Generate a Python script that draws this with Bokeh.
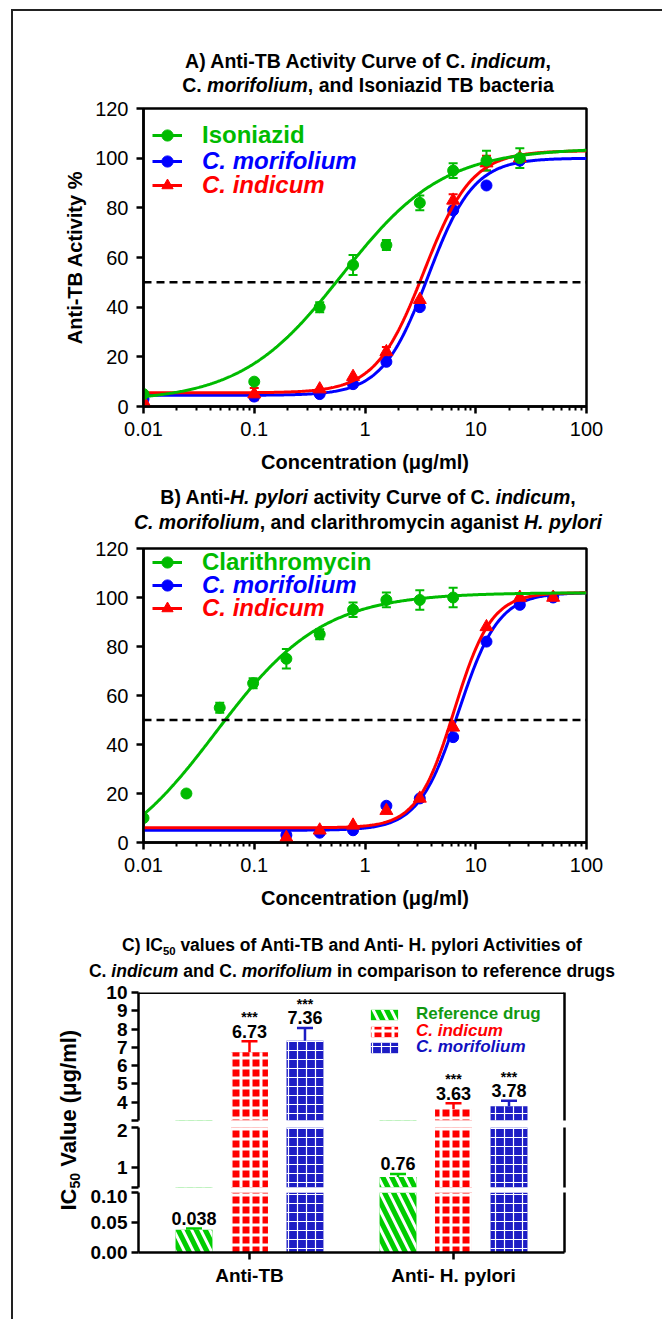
import numpy as np
from math import pi
from bokeh.plotting import figure
from bokeh.models import (Range1d, FixedTicker, Span, Whisker, TeeHead, ColumnDataSource,
                          Legend, LegendItem, Label, LabelSet, Div, Spacer, LinearAxis,
                          FactorRange, PrintfTickFormatter)
from bokeh.layouts import column, row
from bokeh.transform import dodge
from bokeh.core.properties import value
from bokeh.embed import file_html
from bokeh.resources import INLINE

FONT = "Liberation Sans"
GREEN, BLUE, RED = "#00bb00", "#0000ff", "#ff0000"

# ---------------- Panel A: anti-TB activity (%) ----------------
conc_tb = [0.01, 0.1, 0.39, 0.78, 1.56, 3.125, 6.25, 12.5, 25]
isoniazid_tb = [5, 10, 40, 57, 65, 82, 95, 99, 100]
isoniazid_tb_err = [0, 0, 2, 4, 2, 3, 3, 4, 4]
morifolium_tb = [3, 4, 5, 9, 18, 40, 79, 89, 99]
morifolium_tb_err = [0, 0, 0, 0, 0, 0, 0, 0, 0]
indicum_tb = [2, 5, 7, 12, 22, 43, 83, 98, 100]
indicum_tb_err = [0, 2.5, 0, 0, 2, 0, 2.5, 3, 0]
# fitted curves (bottom, top, IC50, hill) as read from the drawn fits
fit_isoniazid_tb = [2, 104, 0.62, 0.95]
fit_morifolium_tb = [4.5, 100, 3.7, 2.1]
fit_indicum_tb = [5.5, 103, 3.4, 2.0]

# ---------------- Panel B: anti-H. pylori activity (%) ----------------
conc_clar = [0.01, 0.0244, 0.0488, 0.0977, 0.195, 0.39, 0.78, 1.56, 3.125, 6.25]
clarithromycin_hp = [10, 20, 55, 65, 75, 85, 95, 99, 99, 100]
clarithromycin_hp_err = [0, 0, 2, 2, 4, 2, 3, 3, 4, 4]
conc_extract = [0.195, 0.39, 0.78, 1.56, 3.125, 6.25, 12.5, 25, 50]
morifolium_hp = [3, 4, 5, 15, 18, 43, 82, 97, 100]
morifolium_hp_err = [0, 0, 0, 0, 0, 0, 0, 0, 0]
indicum_hp = [2, 5, 7, 13, 18, 47, 88, 100, 100]
indicum_hp_err = [0, 0, 0, 0, 0, 0, 0, 0, 0]
fit_clarithromycin_hp = [-12, 102, 0.045, 0.9]
fit_morifolium_hp = [5, 102, 7.0, 2.4]
fit_indicum_hp = [6, 102, 6.4, 2.6]

# ---------------- Panel C: IC50 values (ug/ml) ----------------
groups = ["Anti-TB", "Anti- H. pylori"]
ic50_reference = [0.038, 0.76]
ic50_reference_err = [0.002, 0.08]
ic50_indicum = [6.73, 3.63]
ic50_indicum_err = [0.6, 0.32]
ic50_morifolium = [7.36, 3.78]
ic50_morifolium_err = [0.7, 0.3]
sig_reference = ["", ""]
sig_indicum = ["***", "***"]
sig_morifolium = ["***", "***"]

# ticks
y_ticks_pct = [0, 20, 40, 60, 80, 100, 120]
x_major_ticks = [0.01, 0.1, 1, 10, 100]
x_tick_labels = ["0.01", "0.1", "1", "10", "100"]
c_top_ticks = [3, 4, 5, 6, 7, 8, 9, 10]
c_mid_ticks = [0.5, 1, 2]
c_bot_ticks = [0, 0.05, 0.1]

W = 649


def logistic(x, bottom, top, ic50, hill):
    return bottom + (top - bottom) / (1 + 10 ** ((np.log10(ic50) - np.log10(x)) * hill))


XS = np.logspace(-2, 2, 400)


def title_div(lines, height, size, cx):
    parts = []
    for html, cy in lines:
        parts.append(f'<div style="position:absolute;left:{cx}px;top:{cy}px;'
                     f'transform:translate(-50%,-50%);white-space:nowrap;">{html}</div>')
    html = (f'<div style="position:relative;width:{W}px;height:{height}px;'
            f"font-family:'{FONT}',sans-serif;font-weight:bold;font-size:{size}px;"
            f'line-height:1;color:#000;">' + "".join(parts) + '</div>')
    return Div(text=html, width=W, height=height, margin=0)


def style_axis(ax, size="20px", style="normal"):
    ax.axis_line_width = 2.5
    ax.axis_line_color = "black"
    ax.major_tick_line_width = 2.5
    ax.minor_tick_line_width = 2
    ax.major_tick_line_color = "black"
    ax.minor_tick_line_color = "black"
    ax.major_tick_in = 0
    ax.major_tick_out = 7
    ax.minor_tick_in = 0
    ax.minor_tick_out = 4
    ax.major_label_text_font = FONT
    ax.major_label_text_font_size = size
    ax.major_label_text_font_style = style
    ax.major_label_text_color = "black"
    ax.axis_label_text_font = FONT
    ax.axis_label_text_font_size = "20px"
    ax.axis_label_text_font_style = "bold"
    ax.axis_label_text_color = "black"


def dose_panel(height, mbb, series, legend_bottoms, y_label=None):
    p = figure(width=W, height=height, x_axis_type="log", x_range=Range1d(0.01, 100),
               y_range=Range1d(0, 120), output_backend="svg", toolbar_location=None,
               min_border_left=130, min_border_right=76, min_border_top=10,
               min_border_bottom=mbb)
    p.grid.visible = False
    p.outline_line_color = "black"
    p.outline_line_width = 2.5
    p.outline_line_alpha = 1
    p.add_layout(Span(location=50, dimension="width", line_color="black",
                      line_width=2.5, line_dash="8 5"))
    minor = [m * 10.0 ** e for e in range(-2, 2) for m in range(2, 10)]
    p.xaxis.ticker = FixedTicker(ticks=x_major_ticks, minor_ticks=minor)
    p.xaxis.major_label_overrides = dict(zip(x_major_ticks, x_tick_labels))
    p.yaxis.ticker = FixedTicker(ticks=y_ticks_pct, minor_ticks=[])
    for ax in p.axis:
        style_axis(ax)
    p.xaxis.axis_label = "Concentration (μg/ml)"
    p.xaxis.major_label_standoff = 8
    p.xaxis.axis_label_standoff = 12
    p.yaxis.major_label_standoff = 8
    p.yaxis.axis_label_standoff = 6
    if y_label:
        p.yaxis.axis_label = y_label
    rend = {}
    for s in series:
        ln = p.line(XS, logistic(XS, *s["fit"]), line_color=s["color"], line_width=3)
        hi = [v + e for v, e in zip(s["resp"], s["err"])]
        lo = [v - e for v, e in zip(s["resp"], s["err"])]
        wx = [x for x, e in zip(s["conc"], s["err"]) if e > 0]
        whi = [h for h, e in zip(hi, s["err"]) if e > 0]
        wlo = [l for l, e in zip(lo, s["err"]) if e > 0]
        wsrc = ColumnDataSource(dict(x=wx, hi=whi, lo=wlo))
        p.add_layout(Whisker(source=wsrc, base="x", upper="hi", lower="lo",
                             line_color=s["color"], line_width=2,
                             upper_head=TeeHead(size=9, line_color=s["color"], line_width=2),
                             lower_head=TeeHead(size=9, line_color=s["color"], line_width=2)))
        sc = p.scatter(s["conc"], s["resp"], marker=s["marker"], size=s["size"],
                       fill_color=s["color"], line_color=s["color"])
        rend[s["name"]] = [ln, sc]
    for s in series:
        lg = Legend(items=[LegendItem(label=s["name"], renderers=rend[s["name"]])],
                    location=(9, legend_bottoms[s["name"]]), glyph_width=30, glyph_height=28,
                    label_standoff=20, label_text_font=FONT, label_text_font_size="24px",
                    label_text_font_style=s["style"], label_text_color=s["color"],
                    padding=0, margin=0, spacing=0, border_line_color=None,
                    background_fill_alpha=0)
        p.add_layout(lg)
    return p


# ---------------- Panel A ----------------
series_a = [
    dict(name="C. morifolium", conc=conc_tb, resp=morifolium_tb, err=morifolium_tb_err,
         fit=fit_morifolium_tb, color=BLUE, marker="circle", size=11, style="bold italic"),
    dict(name="C. indicum", conc=conc_tb, resp=indicum_tb, err=indicum_tb_err,
         fit=fit_indicum_tb, color=RED, marker="triangle", size=13, style="bold italic"),
    dict(name="Isoniazid", conc=conc_tb, resp=isoniazid_tb, err=isoniazid_tb_err,
         fit=fit_isoniazid_tb, color=GREEN, marker="circle", size=11, style="bold"),
]
pA = dose_panel(387, 79, series_a,
                {"Isoniazid": 257, "C. morifolium": 231, "C. indicum": 207},
                y_label="Anti-TB Activity %")

# ---------------- Panel B ----------------
series_b = [
    dict(name="C. morifolium", conc=conc_extract, resp=morifolium_hp, err=morifolium_hp_err,
         fit=fit_morifolium_hp, color=BLUE, marker="circle", size=11, style="bold italic"),
    dict(name="C. indicum", conc=conc_extract, resp=indicum_hp, err=indicum_hp_err,
         fit=fit_indicum_hp, color=RED, marker="triangle", size=13, style="bold italic"),
    dict(name="Clarithromycin", conc=conc_clar, resp=clarithromycin_hp,
         err=clarithromycin_hp_err, fit=fit_clarithromycin_hp, color=GREEN,
         marker="circle", size=11, style="bold"),
]
pB = dose_panel(382, 78, series_b,
                {"Clarithromycin": 266, "C. morifolium": 243, "C. indicum": 220})
for txt, st, off in [("Anti-", "bold", -113), ("H. pylori", "bold italic", -68),
                     ("Activity %", "bold", 18)]:
    pB.add_layout(Label(x=0.01, y=60, x_offset=-63, y_offset=off, text=txt, angle=pi / 2,
                        text_align="left", text_baseline="middle", text_font=FONT,
                        text_font_size="20px", text_font_style=st, text_color="black"))

# ---------------- Panel C ----------------
bar_series = [
    dict(name="Reference drug", vals=ic50_reference, errs=ic50_reference_err, sig=sig_reference,
         off=-0.272, color="#00cc00", text_color="#119911", style="bold",
         hatch="\\", hscale=18, hweight=3),
    dict(name="C. indicum", vals=ic50_indicum, errs=ic50_indicum_err, sig=sig_indicum,
         off=0.0, color=RED, text_color=RED, style="bold italic",
         hatch="+", hscale=10, hweight=3),
    dict(name="C. morifolium", vals=ic50_morifolium, errs=ic50_morifolium_err, sig=sig_morifolium,
         off=0.272, color="#1c1cc4", text_color="#1010c0", style="bold italic",
         hatch="+", hscale=9, hweight=1.2),
]


def c_segment(height, mbt, mbb, y0, y1, ticks, overrides, fmt=None, bottom=False, top=False):
    p = figure(width=577, height=height, x_range=FactorRange(factors=groups, range_padding=0.044),
               y_range=Range1d(y0, y1), output_backend="svg", toolbar_location=None,
               min_border_left=53, min_border_right=98, min_border_top=mbt,
               min_border_bottom=mbb)
    p.outline_line_color = None
    p.grid.visible = False
    p.yaxis.ticker = FixedTicker(ticks=ticks, minor_ticks=[])
    p.yaxis.major_label_overrides = overrides
    if fmt is not None:
        p.yaxis.formatter = fmt
    right = LinearAxis(ticker=FixedTicker(ticks=[]))
    p.add_layout(right, "right")
    if top:
        p.add_layout(Span(location=y1, dimension="width", line_color="black", line_width=3))
    for ax in p.axis:
        style_axis(ax, size="19px", style="bold")
    p.yaxis.major_label_standoff = 4
    p.xaxis.major_label_overrides = {g: "" for g in groups}
    if not bottom:
        p.xaxis.visible = False
    rends = {}
    for s in bar_series:
        upper = [v + e for v, e in zip(s["vals"], s["errs"])]
        src = ColumnDataSource(dict(group=groups, val=s["vals"]))
        xs = dodge("group", s["off"], range=p.x_range)
        r = p.vbar(x=xs, top="val", bottom=0, width=0.181, source=src,
                   fill_color=s["color"], line_color=None,
                   hatch_pattern=s["hatch"], hatch_color="white",
                   hatch_scale=s["hscale"], hatch_weight=s["hweight"])
        rends[s["name"]] = r
        # error bars and labels only in the segment where they are visible
        keep_w = [i for i in range(len(groups)) if upper[i] > y0 and s["vals"][i] < y1]
        wsrc = ColumnDataSource(dict(group=[groups[i] for i in keep_w],
                                     val=[s["vals"][i] for i in keep_w],
                                     upper=[upper[i] for i in keep_w]))
        p.add_layout(Whisker(source=wsrc, base=dodge("group", s["off"], range=p.x_range),
                             upper="upper", lower="val",
                             line_color=s["color"], line_width=2.5,
                             upper_head=TeeHead(size=16, line_color=s["color"], line_width=2.5),
                             lower_head=None))
        keep_t = [i for i in range(len(groups)) if y0 <= upper[i] <= y1]
        tsrc = ColumnDataSource(dict(group=[groups[i] for i in keep_t],
                                     upper=[upper[i] for i in keep_t],
                                     label=[f"{s['vals'][i]:g}" for i in keep_t],
                                     sig=[s["sig"][i] for i in keep_t]))
        txs = dodge("group", s["off"], range=p.x_range)
        p.text(x=txs, y="upper", text="label", source=tsrc, y_offset=-10,
               text_align="center", text_baseline="middle", text_font=value(FONT),
               text_font_size="18px", text_font_style="bold", text_color="black")
        p.text(x=txs, y="upper", text="sig", source=tsrc, y_offset=-24,
               text_align="center", text_baseline="middle", text_font=value(FONT),
               text_font_size="14px", text_font_style="bold", text_color="black")
    return p, rends


cTop, rends_top = c_segment(141, 10, 3, 3, 10, c_top_ticks, {3: ""}, top=True)
cMid, _ = c_segment(66, 4, 2, 0.5, 2, c_mid_ticks, {0.5: ""})
cBot, _ = c_segment(111, 3, 48, 0, 0.1, c_bot_ticks, {},
                    fmt=PrintfTickFormatter(format="%.2f"), bottom=True)

for s, bottom_y in zip(bar_series, [96, 79, 63]):
    lg = Legend(items=[LegendItem(label=s["name"], renderers=[rends_top[s["name"]]])],
                location=(229, bottom_y), glyph_width=34, glyph_height=13,
                label_standoff=15, label_text_font=FONT, label_text_font_size="17px",
                label_text_font_style=s["style"], label_text_color=s["text_color"],
                padding=0, margin=0, spacing=0, border_line_color=None,
                background_fill_alpha=0)
    cTop.add_layout(lg)

# category labels (split so that "H. pylori" can be italic)
cat_label_parts = [
    (["Anti-TB"], ["Anti-TB"], 0, "center", "bold"),
    (["Anti- H. pylori"], ["Anti-"], -18, "right", "bold"),
    (["Anti- H. pylori"], ["H. pylori"], -12.7, "left", "bold italic"),
]
for grp, txt, xo, align, st in cat_label_parts:
    cBot.add_layout(LabelSet(source=ColumnDataSource(dict(g=grp, y=[0], t=txt)),
                             x="g", y="y", text="t", x_offset=xo, y_offset=-21,
                             text_align=align, text_baseline="middle", text_font=value(FONT),
                             text_font_size="19px", text_font_style=st, text_color="black"))

# y-axis title of panel C (spans the three segments)
tC = figure(width=72, height=318, x_range=Range1d(0, 72), y_range=Range1d(0, 318),
            x_axis_type=None, y_axis_type=None, toolbar_location=None,
            output_backend="svg", min_border=0, outline_line_color=None)
tC.grid.visible = False
for txt, xx, yy, fs in [("IC", 55, 90, "22px"), ("50", 61, 112, "14px"),
                        ("Value (μg/ml)", 55, 133.7, "22px")]:
    tC.add_layout(Label(x=xx, y=yy, text=txt, angle=pi / 2, text_align="left",
                        text_baseline="middle", text_font=FONT, text_font_size=fs,
                        text_font_style="bold", text_color="black"))

# ---------------- titles ----------------
divA = title_div([("A) Anti-TB Activity Curve of C. <i>indicum</i>,", 51),
                  ("C. <i>morifolium</i>, and Isoniazid TB bacteria", 75)], 87, 19.5, 355)
divB = title_div([("B) Anti-<i>H. pylori</i> activity Curve of C. <i>indicum</i>,", 13),
                  ("<i>C. morifolium</i>, and clarithromycin aganist <i>H. pylori</i>", 38)],
                 53, 19.5, 355)
divC = title_div([('C) IC<sub style="font-size:0.65em">50</sub> values of Anti-TB and Anti- H. pylori Activities of', 27),
                  ("C. <i>indicum</i> and C. <i>morifolium</i> in comparison to reference drugs", 52)],
                 62, 17.5, 339)

content = column(divA, pA, divB, pB, divC,
                 row(tC, column(cTop, cMid, cBot, spacing=0), spacing=0),
                 Spacer(width=10, height=19, margin=0), spacing=0)
top_line = Div(text="", width=651, height=2, margin=0, styles={"background-color": "#222"})
left_line = Div(text="", width=2, height=1308, margin=0, styles={"background-color": "#222"})
layout = column(Spacer(width=10, height=9, margin=0),
                row(Spacer(width=11, height=10, margin=0),
                    column(top_line, row(left_line, content, spacing=0), spacing=0),
                    spacing=0),
                spacing=0)

open("out.html", "w").write(file_html(layout, INLINE))
